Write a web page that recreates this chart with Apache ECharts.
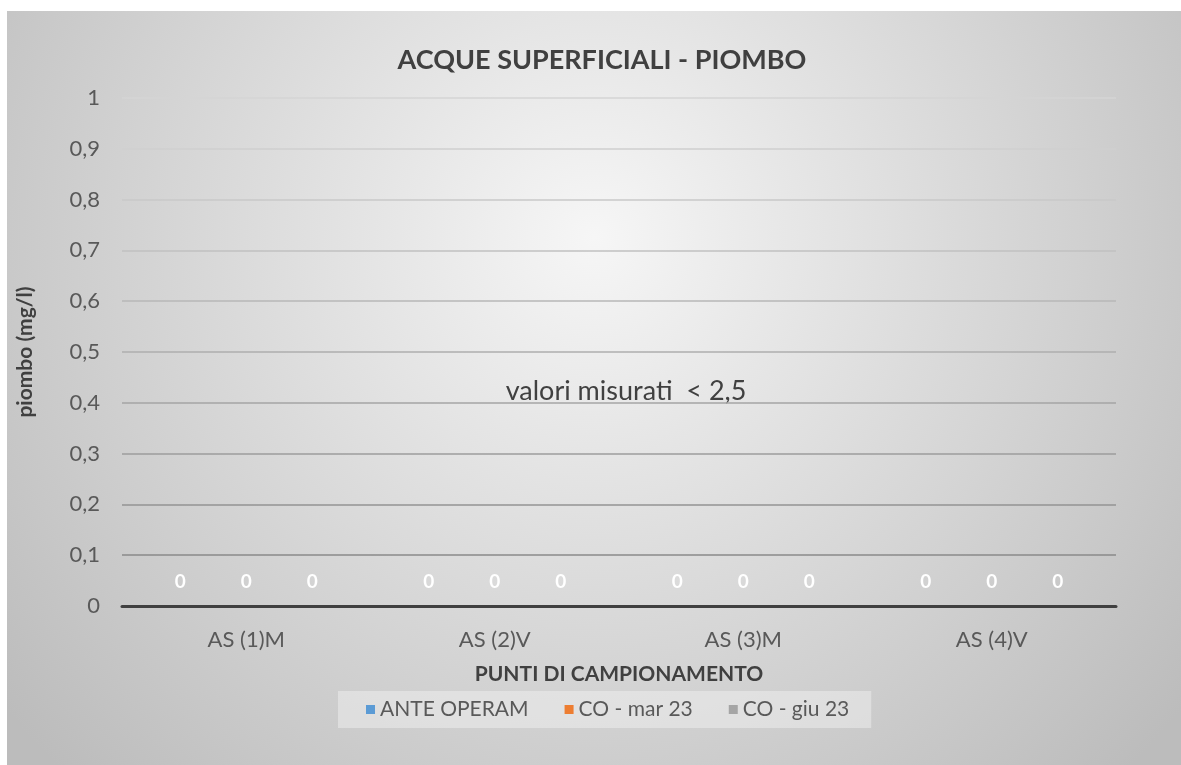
<!DOCTYPE html>
<html>
<head>
<meta charset="utf-8">
<script src="https://cdn.jsdelivr.net/npm/echarts@6/dist/echarts.min.js"></script>
<style>
html,body{margin:0;padding:0;background:#ffffff;width:1181px;height:765px;overflow:hidden;}
#chart{position:absolute;left:7px;top:11px;width:1174px;height:754px;}
</style>
</head>
<body>
<div id="chart"></div>
<script>
const categories = ['AS (1)M', 'AS (2)V', 'AS (3)M', 'AS (4)V'];
const anteOperam = [0, 0, 0, 0];
const coMar23 = [0, 0, 0, 0];
const coGiu23 = [0, 0, 0, 0];
const seriesNames = ['ANTE OPERAM', 'CO - mar 23', 'CO - giu 23'];
const yTicks = [0, 0.1, 0.2, 0.3, 0.4, 0.5, 0.6, 0.7, 0.8, 0.9, 1];

const FONT = 'Lato';
const chart = echarts.init(document.getElementById('chart'));
const labelCfg = {show: true, position: 'top', distance: 15, color: '#ffffff', fontSize: 19, fontWeight: 'bold', fontFamily: FONT, formatter: p => String(p.value).replace('.', ',')};
function mk(name, data, color) {
  return {name, type: 'bar', data, barWidth: 52, barGap: '27%', itemStyle: {color}, label: labelCfg};
}
chart.setOption({
  backgroundColor: {type: 'radial', x: 0.5, y: 0.3, r: 1.0, colorStops: [{offset: 0, color: '#f6f6f6'}, {offset: 1, color: '#bcbcbc'}]},
  title: {text: 'ACQUE SUPERFICIALI - PIOMBO', left: 590, top: 31, textAlign: 'center', textStyle: {fontFamily: FONT, fontSize: 27, fontWeight: 'bold', color: '#404040'}},
  legend: {data: seriesNames, left: 331, top: 680, icon: 'rect', itemWidth: 9, itemHeight: 9, itemGap: 36, backgroundColor: 'rgba(255,255,255,0.35)', padding: [8, 22, 8, 28], textStyle: {fontFamily: FONT, fontSize: 21, color: '#595959'}},
  grid: {left: 114, right: 65, top: 87, bottom: 159},
  xAxis: {type: 'category', data: categories, name: 'PUNTI DI CAMPIONAMENTO', nameLocation: 'middle', nameGap: 58,
    nameTextStyle: {fontFamily: FONT, fontSize: 21, fontWeight: 'bold', color: '#404040'},
    axisLine: {lineStyle: {color: '#404040', width: 3}}, axisTick: {show: false},
    axisLabel: {margin: 23, fontFamily: FONT, fontSize: 22, color: '#595959'}},
  yAxis: {type: 'value', min: 0, max: 1, interval: 0.1, name: 'piombo (mg/l)', nameLocation: 'middle', nameGap: 86, nameRotate: 90,
    nameTextStyle: {fontFamily: FONT, fontSize: 21, fontWeight: 'bold', color: '#404040'},
    axisLine: {show: false}, axisTick: {show: false},
    axisLabel: {margin: 22, fontFamily: FONT, fontSize: 22, color: '#595959', formatter: v => { const t = yTicks.find(x => Math.abs(x - v) < 1e-9); return String(t !== undefined ? t : v).replace('.', ','); }},
    splitLine: {lineStyle: {width: 1.5, color: ['#404040', '#8a8a8a', '#939393', '#9c9c9c', '#a5a5a5', '#aeaeae', '#b7b7b7', '#c0c0c0', '#c8c8c8', '#cfcfcf', '#d5d5d5']}}},
  graphic: [{type: 'text', x: 619, y: 380, style: {text: 'valori misurati  < 2,5', fontFamily: FONT, fontSize: 27, fill: '#404040', textAlign: 'center', textVerticalAlign: 'middle'}}],
  series: [mk(seriesNames[0], anteOperam, '#5b9bd5'), mk(seriesNames[1], coMar23, '#ed7d31'), mk(seriesNames[2], coGiu23, '#a5a5a5')]
});
</script>
</body>
</html>
